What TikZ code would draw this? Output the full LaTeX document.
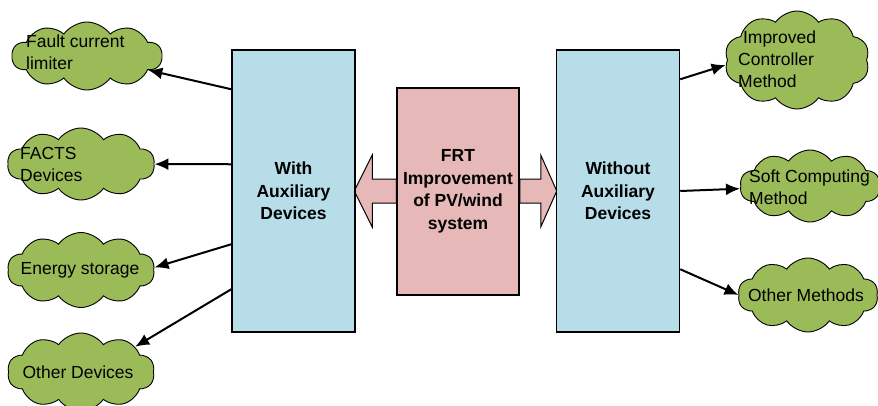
\documentclass[tikz,border=0pt]{standalone}
\usepackage{fontspec}
\setmainfont{Liberation Sans}
\usetikzlibrary{shapes.symbols,arrows.meta,backgrounds}

\definecolor{boxblue}{RGB}{183,221,232}
\definecolor{boxpink}{RGB}{230,184,183}
\definecolor{cloudgreen}{RGB}{155,187,89}

\begin{document}
\begin{tikzpicture}[x=1pt,y=-1pt,
  every node/.style={font=\fontsize{17.5}{22}\selectfont},
  block/.style={draw,line width=1.5pt,fill=boxblue,minimum width=123pt,minimum height=282pt,align=center,font=\fontsize{17.5}{22.5}\selectfont\bfseries},
  puff/.style={cloud,cloud puffs=10,cloud puff arc=110,draw,line width=0.9pt,fill=cloudgreen,inner sep=0pt},
  txt/.style={align=left,inner sep=0pt},
  link/.style={-{Latex[length=14pt,width=12pt]},line width=2pt},
  fatarrow/.style={fill=boxpink,draw,line width=1pt}]
  \useasboundingbox (0,0) rectangle (878,405);
  \node[block] (with) at (293.5,191) {With\\Auxiliary\\Devices};
  \node[block] (without) at (618,191) {Without\\Auxiliary\\Devices};
  \node[block,fill=boxpink,minimum width=122pt,minimum height=207pt] (frt) at (458,191.5) {FRT\\Improvement\\of PV/wind\\system};
  \begin{scope}[on background layer]
    \draw[fatarrow] (frt.west) ++(0,-12.5) -- ++(-24,0) -- ++(0,-24) -- ++(-18,36) -- ++(18,36) -- ++(0,-24) -- ++(24,0) -- cycle;
    \draw[fatarrow] (frt.east) ++(0,-12.5) -- ++(21,0) -- ++(0,-24) -- ++(16,36) -- ++(-16,36) -- ++(0,-24) -- ++(-21,0) -- cycle;
  \end{scope}
  \node[puff,minimum width=150pt,minimum height=68pt] (fcl) at (87,56) {};
  \node[txt,anchor=west] (fcltxt) at (26,52) {Fault current\\limiter};
  \node[puff,minimum width=147pt,minimum height=72pt] (facts) at (81,164) {};
  \node[txt,anchor=west] (factstxt) at (20,164) {FACTS\\Devices};
  \node[puff,minimum width=147pt,minimum height=75pt] (es) at (81,270) {};
  \node[txt] (estxt) at (80,270) {Energy storage};
  \node[puff,minimum width=147pt,minimum height=78pt] (od) at (81,372) {};
  \node[txt] (odtxt) at (78,372) {Other Devices};
  \node[puff,minimum width=145pt,minimum height=98pt] (icm) at (797,60) {};
  \node[txt,anchor=west] (icmtxt) at (738,59) {\ Improved\\Controller\\Method};
  \node[puff,minimum width=140pt,minimum height=72pt] (scm) at (810,186) {};
  \node[txt,anchor=west] (scmtxt) at (749,187) {Soft Computing\\Method};
  \node[puff,minimum width=140pt,minimum height=74pt] (om) at (808,295) {};
  \node[txt] (omtxt) at (806,295) {Other Methods};
  \draw[link] ([yshift=-40pt]with.north west) -- (fcl);
  \draw[link] ([yshift=-115pt]with.north west) -- (facts);
  \draw[link] ([yshift=-195pt]with.north west) -- (es.2);
  \draw[link] ([yshift=-240pt]with.north west) -- (od.25);
  \draw[link] ([yshift=-30pt]without.north east) -- (icm.184);
  \draw[link] (without.east) -- (scm);
  \draw[link] ([yshift=-220pt]without.north east) -- (om.west);
\end{tikzpicture}
\end{document}
